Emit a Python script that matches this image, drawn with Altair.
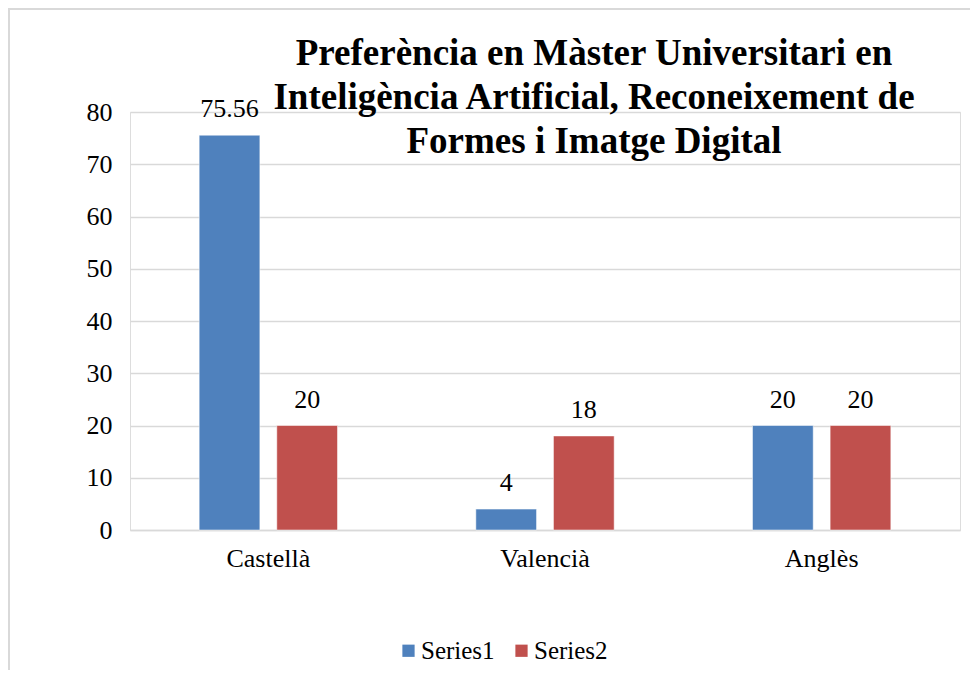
import altair as alt
import pandas as pd

categories = ["Castellà", "Valencià", "Anglès"]
series_names = ["Series1", "Series2"]
series1 = [75.56, 4, 20]
series2 = [20, 18, 20]
y_ticks = [0, 10, 20, 30, 40, 50, 60, 70, 80]
title_lines = ["Preferència en Màster Universitari en",
               "Inteligència Artificial, Reconeixement de",
               "Formes i Imatge Digital"]
colors = ["#4F81BD", "#C0504D"]

rows = []
for c, v1, v2 in zip(categories, series1, series2):
    rows.append({"cat": c, "series": series_names[0], "value": v1})
    rows.append({"cat": c, "series": series_names[1], "value": v2})
df = pd.DataFrame(rows)

FONT = "Liberation Serif"
W, H = 830, 418

x_enc = alt.X("cat:N", sort=categories, title=None,
              scale=alt.Scale(paddingInner=0.5, paddingOuter=0.25),
              axis=alt.Axis(labelFont=FONT, labelFontSize=26, labelColor="#000000",
                            labelAngle=0, ticks=False, domainColor="#D9D9D9",
                            domainWidth=1.5, labelPadding=15))
xoff = alt.XOffset("series:N", sort=series_names,
                   scale=alt.Scale(paddingInner=0.218, paddingOuter=0))
y_enc = alt.Y("value:Q", title=None,
              scale=alt.Scale(domain=[0, 80], nice=False),
              axis=alt.Axis(values=y_ticks, labelFont=FONT, labelFontSize=26,
                            labelColor="#000000", ticks=False, domain=False,
                            gridColor="#D9D9D9", gridWidth=1.5, labelPadding=18))

border = alt.Chart(pd.DataFrame({"a": [0]})).mark_rect(
    fill=None, stroke="#D9D9D9", strokeWidth=2, clip=False
).encode(x=alt.value(-121), x2=alt.value(W + 40),
         y=alt.value(-103), y2=alt.value(H + 300))

bars = alt.Chart(df).mark_bar(stroke="#FFFFFF", strokeWidth=0.5).encode(
    x=x_enc, xOffset=xoff, y=y_enc,
    color=alt.Color("series:N", sort=series_names,
                    scale=alt.Scale(domain=series_names, range=colors),
                    legend=alt.Legend(title=None, orient="none", direction="horizontal",
                                      legendX=266, legendY=526,
                                      symbolType="square", symbolSize=150,
                                      symbolStrokeWidth=0,
                                      labelFont=FONT, labelFontSize=25,
                                      labelColor="#000000", columnPadding=14,
                                      symbolOffset=0, labelOffset=0)),
)

labels = alt.Chart(df).mark_text(font=FONT, fontSize=26, color="#000000",
                                 baseline="alphabetic", dy=-18).encode(
    x=alt.X("cat:N", sort=categories), xOffset=xoff,
    y=alt.Y("value:Q"), text=alt.Text("value:Q"))

chart = alt.layer(border, bars, labels).properties(
    width=W, height=H,
    title=alt.Title(title_lines, font=FONT, fontSize=37, fontWeight="bold",
                    color="#000000", anchor="middle", lineHeight=44,
                    dx=49, dy=153, offset=0),
    autosize=alt.AutoSizeParams(type="none"),
    padding={"left": 122, "top": 104, "right": 10, "bottom": 140},
).configure_view(stroke=None).configure(background="#FFFFFF")

chart.save("out.html", embed_options={"renderer": "svg", "actions": False})
